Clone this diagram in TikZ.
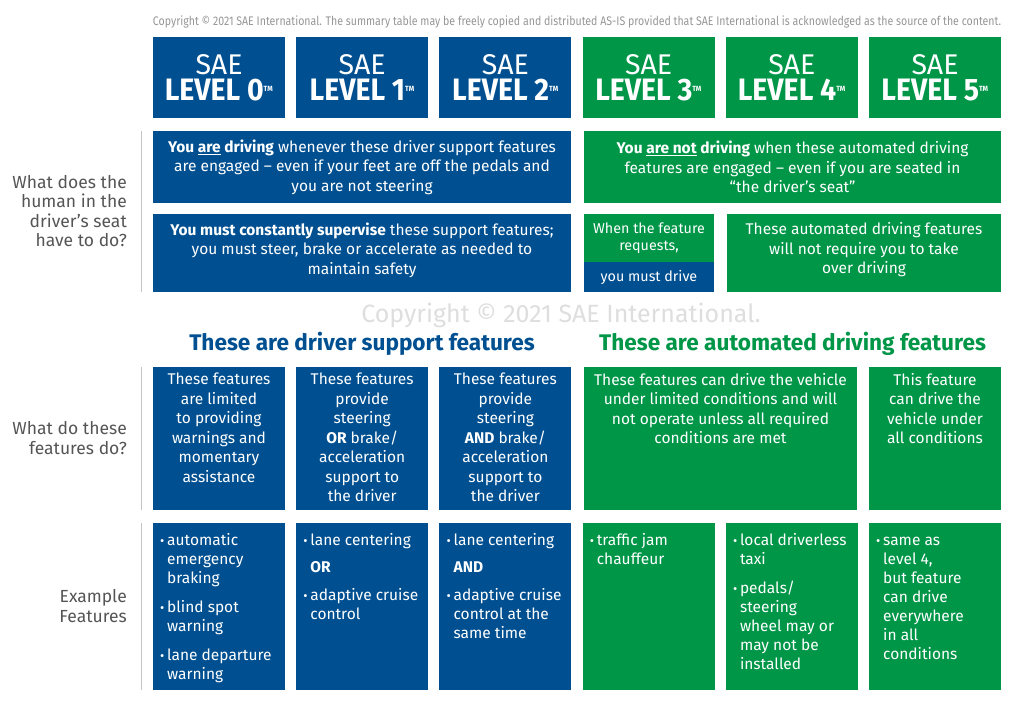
\documentclass[tikz,border=0pt]{standalone}
\usepackage{fontspec}
\usepackage{xcolor}
\setmainfont{Fira Sans}
\newfontfamily\condfont{Fira Sans}[FakeStretch=0.85]
\newfontfamily\levelfont{Fira Sans}[FakeStretch=0.92]
\definecolor{saeblue}{RGB}{0,80,145}
\definecolor{saegreen}{RGB}{0,150,72}
\definecolor{labelgray}{RGB}{85,85,85}
\definecolor{notegray}{RGB}{150,150,150}
\definecolor{markgray}{RGB}{222,222,222}
\newcommand{\tmark}{\textsuperscript{\fontsize{7.5}{7.5}\selectfont TM}}
\newcommand{\bul}{\makebox[7pt][l]{\raisebox{0.5pt}{\fontsize{13}{13}\selectfont\textbullet}}}

\begin{document}
\begin{tikzpicture}[x=1pt, y=-1pt,
    box/.style={inner sep=0pt, text=white, align=center},
    levelbox/.style={box, minimum width=132pt, minimum height=81pt, font=\fontsize{28.5}{26}\selectfont},
    bodytext/.style={text=white, inner sep=0pt, align=center, font=\fontsize{15.5}{19.5}\selectfont},
    listtext/.style={text=white, inner sep=0pt, anchor=north west, font=\fontsize{15.5}{19}\selectfont},
    sidelabel/.style={text=labelgray, inner sep=0pt, anchor=east, align=right, font=\fontsize{17.5}{19.5}\selectfont}]
  \useasboundingbox (0, 0) rectangle (1024, 708);
  \node[text=notegray, inner sep=0pt, font=\condfont\fontsize{12.45}{12}\selectfont] (note) at (577, 22)
    {Copyright \textcopyright\ 2021 SAE International. The summary table may be freely copied and distributed AS-IS provided that SAE International is acknowledged as the source of the content.};
  % level headers
  \foreach \lvl/\col in {0/saeblue, 1/saeblue, 2/saeblue, 3/saegreen, 4/saegreen, 5/saegreen}
    \node[levelbox, fill=\col] (level\lvl) at ({219+143.2*\lvl}, 77.5)
      {SAE\\ {\levelfont\fontsize{31}{26}\selectfont\bfseries LEVEL \lvl\tmark}};
  % what does the human do
  \node[sidelabel] (askhuman) at (127, 211) {What does the\\ human in the\\ driver’s seat\\ have to do?};
  \draw[labelgray!35] (141, 131) -- (141, 292);
  \node[box, fill=saeblue, minimum width=418pt, minimum height=72pt] (supportdrive) at (362, 167) {};
  \node[bodytext] (supportdrivetext) at (supportdrive) {\textbf{You \underline{are} driving} whenever these driver support features\\ are engaged – even if your feet are off the pedals and\\ you are not steering};
  \node[box, fill=saegreen, minimum width=417pt, minimum height=72pt] (autodrive) at (792.5, 167) {};
  \node[bodytext] (autodrivetext) at (autodrive) {\textbf{You \underline{are not} driving} when these automated driving\\ features are engaged – even if you are seated in\\ “the driver’s seat”};
  \node[box, fill=saeblue, minimum width=418pt, minimum height=78pt] (supervise) at (362, 253) {};
  \node[bodytext] (supervisetext) at (362, 250) {\textbf{You must constantly supervise} these support features;\\ you must steer, brake or accelerate as needed to\\ maintain safety};
  \node[box, fill=saegreen, minimum width=130pt, minimum height=48pt] (request) at (649, 238) {};
  \node[bodytext, font=\fontsize{14.3}{17}\selectfont] (requesttext) at (649, 238.5) {When the feature\\ requests,};
  \node[box, fill=saeblue, minimum width=130pt, minimum height=30pt] (mustdrive) at (649, 277) {};
  \node[bodytext, font=\fontsize{14.3}{17}\selectfont] (mustdrivetext) at (mustdrive) {you must drive};
  \node[box, fill=saegreen, minimum width=274pt, minimum height=78pt] (notakeover) at (864, 253) {};
  \node[bodytext] (notakeovertext) at (864, 250) {These automated driving features\\ will not require you to take\\ over driving};
  % watermark and headings
  \node[text=markgray, inner sep=0pt, font=\fontsize{25}{25}\selectfont] (watermark) at (561, 315) {Copyright \textcopyright\ 2021 SAE International.};
  \node[text=saeblue, inner sep=0pt, font=\fontsize{22.6}{22}\selectfont\bfseries] (supporthead) at (362, 344) {These are driver support features};
  \node[text=saegreen, inner sep=0pt, font=\fontsize{22.6}{22}\selectfont\bfseries] (autohead) at (792.5, 344) {These are automated driving features};
  % what do these features do
  \node[sidelabel] (askfeatures) at (127, 438) {What do these\\ features do?};
  \draw[labelgray!35] (141, 367) -- (141, 510);
  \foreach \lvl in {0, 1, 2}
    \node[box, fill=saeblue, minimum width=132pt, minimum height=143pt] (does\lvl) at ({219+143.2*\lvl}, 438.5) {};
  \node[box, fill=saegreen, minimum width=273pt, minimum height=143pt] (does34) at (720.5, 438.5) {};
  \node[box, fill=saegreen, minimum width=132pt, minimum height=143pt] (does5) at (935, 438.5) {};
  \node[bodytext, anchor=north] (does0text) at (219, 373) {These features\\ are limited\\ to providing\\ warnings and\\ momentary\\ assistance};
  \node[bodytext, anchor=north] (does1text) at (362.2, 373) {These features\\ provide\\ steering\\ \textbf{OR} brake/\\ acceleration\\ support to\\ the driver};
  \node[bodytext, anchor=north] (does2text) at (505.4, 373) {These features\\ provide\\ steering\\ \textbf{AND} brake/\\ acceleration\\ support to\\ the driver};
  \node[bodytext, anchor=north] (does34text) at (720.5, 373) {These features can drive the vehicle\\ under limited conditions and will\\ not operate unless all required\\ conditions are met};
  \node[bodytext, anchor=north] (does5text) at (935, 373) {This feature\\ can drive the\\ vehicle under\\ all conditions};
  % example features
  \node[sidelabel] (askexample) at (127, 606) {Example\\ Features};
  \draw[labelgray!35] (141, 523) -- (141, 690);
  \foreach \lvl/\col in {0/saeblue, 1/saeblue, 2/saeblue, 3/saegreen, 4/saegreen, 5/saegreen}
    \node[box, fill=\col, minimum width=132pt, minimum height=167pt] (example\lvl) at ({219+143.2*\lvl}, 606.5) {};
  \node[listtext] (example0text) at (160, 532) {\begin{tabular}{@{}l@{}l@{}}
    \bul & automatic\\ & emergency\\ & braking\\[10pt]
    \bul & blind spot\\ & warning\\[10pt]
    \bul & lane departure\\ & warning\end{tabular}};
  \node[listtext] (example1text) at (303.2, 532) {\begin{tabular}{@{}l@{}l@{}}
    \bul & lane centering\\[8pt]
    & \textbf{OR}\\[9pt]
    \bul & adaptive cruise\\ & control\end{tabular}};
  \node[listtext] (example2text) at (446.4, 532) {\begin{tabular}{@{}l@{}l@{}}
    \bul & lane centering\\[8pt]
    & \textbf{AND}\\[9pt]
    \bul & adaptive cruise\\ & control at the\\ & same time\end{tabular}};
  \node[listtext] (example3text) at (589.6, 532) {\begin{tabular}{@{}l@{}l@{}}
    \bul & traffic jam\\ & chauffeur\end{tabular}};
  \node[listtext] (example4text) at (732.8, 532) {\begin{tabular}{@{}l@{}l@{}}
    \bul & local driverless\\ & taxi\\[10pt]
    \bul & pedals/\\ & steering\\ & wheel may or\\ & may not be\\ & installed\end{tabular}};
  \node[listtext] (example5text) at (876, 532) {\begin{tabular}{@{}l@{}l@{}}
    \bul & same as\\ & level 4,\\ & but feature\\ & can drive\\ & everywhere\\ & in all\\ & conditions\end{tabular}};
\end{tikzpicture}
\end{document}
